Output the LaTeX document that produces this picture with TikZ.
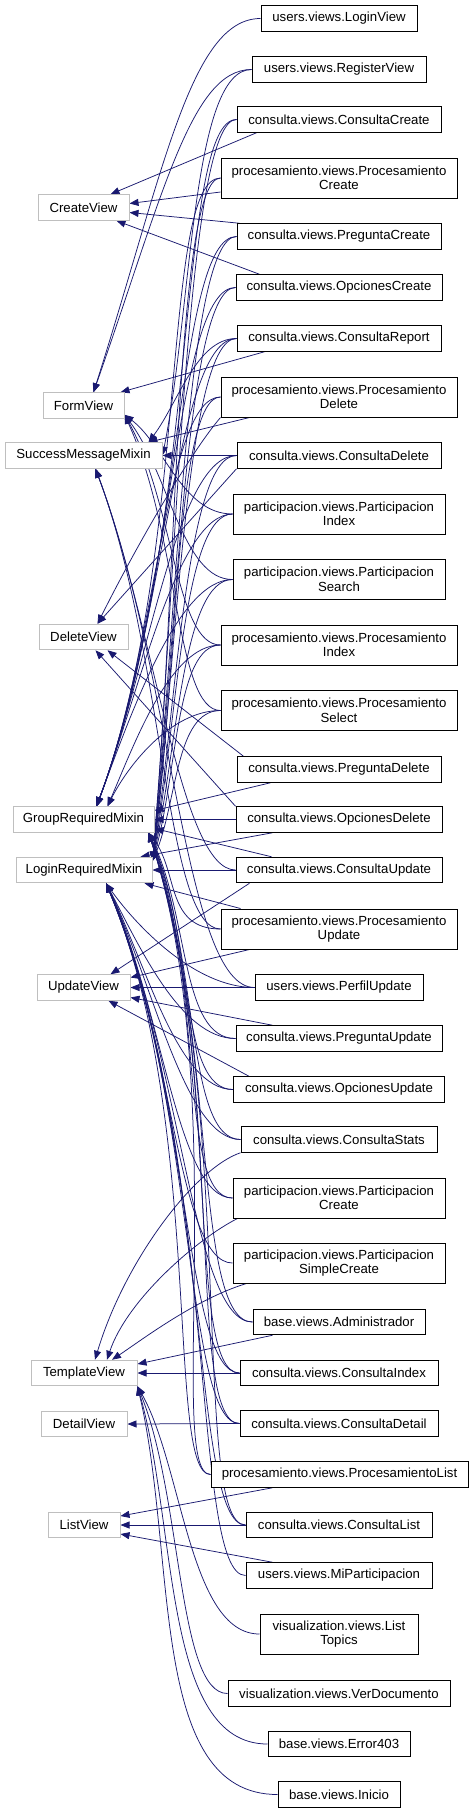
\documentclass[tikz,border=0pt]{standalone}
\usepackage{fontspec}
\setmainfont{Liberation Sans}
\usetikzlibrary{arrows.meta,calc}
\definecolor{edgec}{HTML}{191970}
\definecolor{basegray}{HTML}{BFBFBF}
\pgfdeclarelayer{bg}
\pgfsetlayers{bg,main}
\newcommand{\cedge}[4]{\draw[edge] (#1) .. controls +(#3) and +(#4) .. (#2);}
\begin{document}
\begin{tikzpicture}[x=1pt,y=-1pt,
  cls/.style={draw=black, line width=1pt, fill=white, inner sep=0pt, align=center, minimum height=25.5pt, font=\fontsize{13.2}{14.5}\selectfont},
  two/.style={minimum height=40pt},
  base/.style={draw=basegray, line width=1pt, fill=white, inner sep=0pt, minimum height=25.5pt, font=\fontsize{13.2}{14.5}\selectfont},
  edge/.style={draw=edgec, line width=0.75pt, -{Triangle[length=9pt,width=7pt]}}]
\useasboundingbox (0,0) rectangle (473,1813);
\begin{pgfonlayer}{bg}
\fill[white] (0,0) rectangle (473,1813);
\end{pgfonlayer}

% derived classes
\node[cls, minimum width=156pt] (lv) at (339,18.5) {users.views.LoginView};
\node[cls, minimum width=174pt] (rv) at (339,69.5) {users.views.RegisterView};
\node[cls, minimum width=204pt] (cc) at (339,119.5) {consulta.views.ConsultaCreate};
\node[cls, two, minimum width=236pt] (pc) at (339,178) {procesamiento.views.Procesamiento\\Create};
\node[cls, minimum width=204pt] (pgc) at (339,236.5) {consulta.views.PreguntaCreate};
\node[cls, minimum width=206pt] (oc) at (339,287.5) {consulta.views.OpcionesCreate};
\node[cls, minimum width=204pt] (cr) at (339,338.5) {consulta.views.ConsultaReport};
\node[cls, two, minimum width=236pt] (pd) at (339,397) {procesamiento.views.Procesamiento\\Delete};
\node[cls, minimum width=204pt] (cd) at (339,455.5) {consulta.views.ConsultaDelete};
\node[cls, two, minimum width=212pt] (pai) at (339,514) {participacion.views.Participacion\\Index};
\node[cls, two, minimum width=212pt] (pas) at (339,579.5) {participacion.views.Participacion\\Search};
\node[cls, two, minimum width=236pt] (pi) at (339,645) {procesamiento.views.Procesamiento\\Index};
\node[cls, two, minimum width=236pt] (ps) at (339,710.5) {procesamiento.views.Procesamiento\\Select};
\node[cls, minimum width=204pt] (pgd) at (339,769.5) {consulta.views.PreguntaDelete};
\node[cls, minimum width=206pt] (od) at (339,819.5) {consulta.views.OpcionesDelete};
\node[cls, minimum width=206pt] (cu) at (339,870) {consulta.views.ConsultaUpdate};
\node[cls, two, minimum width=236pt] (pu) at (339,929) {procesamiento.views.Procesamiento\\Update};
\node[cls, minimum width=168pt] (pfu) at (339,987.5) {users.views.PerfilUpdate};
\node[cls, minimum width=206pt] (pgu) at (339,1038.5) {consulta.views.PreguntaUpdate};
\node[cls, minimum width=211pt] (ou) at (339,1089.5) {consulta.views.OpcionesUpdate};
\node[cls, minimum width=196pt] (cs) at (339,1139.5) {consulta.views.ConsultaStats};
\node[cls, two, minimum width=212pt] (pac) at (339,1198) {participacion.views.Participacion\\Create};
\node[cls, two, minimum width=212pt] (pasc) at (339,1263) {participacion.views.Participacion\\SimpleCreate};
\node[cls, minimum width=172pt] (adm) at (339,1322) {base.views.Administrador};
\node[cls, minimum width=198pt] (ci) at (339,1373) {consulta.views.ConsultaIndex};
\node[cls, minimum width=198pt] (cdt) at (339,1423.5) {consulta.views.ConsultaDetail};
\node[cls, minimum width=257pt] (pl) at (339.5,1474.5) {procesamiento.views.ProcesamientoList};
\node[cls, minimum width=186pt] (cl) at (339,1525) {consulta.views.ConsultaList};
\node[cls, minimum width=186pt] (mp) at (339,1575.5) {users.views.MiParticipacion};
\node[cls, two, minimum width=158pt] (lt) at (339,1634) {visualization.views.List\\Topics};
\node[cls, minimum width=222pt] (vd) at (339,1693.5) {visualization.views.VerDocumento};
\node[cls, minimum width=142pt] (e403) at (339,1744) {base.views.Error403};
\node[cls, minimum width=122pt] (ini) at (339,1794.5) {base.views.Inicio};

% base classes
\node[base, minimum width=91pt] (CV) at (83.5,207.5) {CreateView};
\node[base, minimum width=81pt] (FV) at (83.5,405.5) {FormView};
\node[base, minimum width=157pt] (SM) at (83.5,455.5) {SuccessMessageMixin};
\node[base, minimum width=89pt] (DV) at (83.5,637) {DeleteView};
\node[base, minimum width=141pt] (GR) at (83.5,819.5) {GroupRequiredMixin};
\node[base, minimum width=136pt] (LR) at (84,870) {LoginRequiredMixin};
\node[base, minimum width=93pt] (UV) at (83.5,987.5) {UpdateView};
\node[base, minimum width=106pt] (TV) at (84,1373) {TemplateView};
\node[base, minimum width=86pt] (DTV) at (84,1424) {DetailView};
\node[base, minimum width=72pt] (LV) at (84,1525) {ListView};

% anchor points on base classes
\coordinate (CVa) at ($(CV.north)+(27,0)$);
\coordinate (CVb) at ($(CV.east)+(0,-4)$);
\coordinate (CVc) at ($(CV.east)+(0,5)$);
\coordinate (CVd) at ($(CV.south)+(33,0)$);
\coordinate (FVt) at ($(FV.north)+(10,0)$);
\coordinate (FVr) at ($(FV.north east)+(-4,0)$);
\coordinate (FVb) at ($(FV.south east)+(0,-4)$);
\coordinate (SMt) at ($(SM.north east)+(-14,0)$);
\coordinate (SMb) at ($(SM.south)+(12,0)$);
\coordinate (DVt) at ($(DV.north)+(14,0)$);
\coordinate (DVb1) at ($(DV.south)+(12,0)$);
\coordinate (DVb2) at ($(DV.south)+(24,0)$);
\coordinate (GRt) at ($(GR.north)+(13,0)$);
\coordinate (GRt2) at ($(GR.north)+(24,0)$);
\coordinate (GRr1) at ($(GR.east)+(0,-9)$);
\coordinate (GRr2) at ($(GR.east)+(0,9)$);
\coordinate (GRb) at ($(GR.south east)+(-6,0)$);
\coordinate (LRt) at ($(LR.north east)+(-12,0)$);
\coordinate (LRr1) at ($(LR.east)+(0,-9)$);
\coordinate (LRb1) at ($(LR.south east)+(-8,0)$);
\coordinate (LRb) at ($(LR.south)+(22,0)$);
\coordinate (UVa) at ($(UV.north east)+(-20,0)$);
\coordinate (UVb) at ($(UV.east)+(0,-10)$);
\coordinate (UVc) at ($(UV.east)+(0,10)$);
\coordinate (UVd) at ($(UV.south east)+(-22,0)$);
\coordinate (TVt1) at ($(TV.north)+(11,0)$);
\coordinate (TVt2) at ($(TV.north)+(23,0)$);
\coordinate (TVt3) at ($(TV.north)+(28,0)$);
\coordinate (TVr1) at ($(TV.east)+(0,-9)$);
\coordinate (LVa) at ($(LV.east)+(0,-9)$);
\coordinate (LVc) at ($(LV.east)+(0,9)$);

\begin{pgfonlayer}{bg}
% CreateView
\draw[edge] ($(cc.south west)+(20,0)$) -- (CVa);
\draw[edge] ($(pc.west)+(0,14)$) -- (CVb);
\draw[edge] ($(pgc.north west)+(3,0)$) -- (CVc);
\draw[edge] ($(oc.north west)+(24,0)$) -- (CVd);
% FormView
\cedge{lv.west}{FVt}{-70,0}{70,-220}
\cedge{rv.west}{FVt}{-60,0}{70,-200}
\draw[edge] ($(cr.south west)+(28,0)$) -- (FVr);
\cedge{pai.west}{FVb}{-50,0}{40,30}
\cedge{pas.west}{FVb}{-50,0}{45,60}
\cedge{pi.west}{FVb}{-45,0}{50,90}
\cedge{ps.west}{FVb}{-45,0}{55,120}
% SuccessMessageMixin
\draw[edge] ($(pd.south west)+(29,0)$) -- (SMt);
\cedge{cr.west}{SMt}{-40,0}{30,-40}
\draw[edge] (cd.west) -- (SM.east);
\cedge{rv.west}{SM.east}{-60,0}{30,-150}
\cedge{cu.west}{SMb}{-55,0}{60,161}
\cedge{pu.west}{SMb}{-55,0}{69,184}
\cedge{pfu.west}{SMb}{-70,0}{78,208}
% DeleteView
\draw[edge] (cd.south west) -- (DVt);
\cedge{pd.south west}{DVt}{-30,35}{40,-80}
\draw[edge] ($(pgd.north west)+(7,0)$) -- (DVb2);
\draw[edge] (od.north west) -- (DVb1);
% GroupRequiredMixin
\cedge{cc.west}{GRt}{-60,0}{103,-275}
\cedge{pc.west}{GRt}{-60,0}{94,-252}
\cedge{pgc.west}{GRt}{-60,0}{86,-228}
\cedge{oc.west}{GRt}{-60,0}{78,-208}
\cedge{cr.west}{GRt}{-60,0}{70,-187}
\cedge{pd.west}{GRt}{-55,0}{62,-164}
\cedge{cd.west}{GRt}{-60,0}{53,-140}
\cedge{pai.west}{GRt}{-55,0}{44,-117}
\cedge{pas.west}{GRt}{-55,0}{34,-91}
\cedge{pi.west}{GRt2}{-50,0}{28,-65}
\cedge{ps.west}{GRt2}{-50,0}{20,-40}
\draw[edge] ($(pgd.south west)+(34,0)$) -- (GRr1);
\draw[edge] (od.west) -- (GR.east);
\draw[edge] ($(cu.north west)+(36,0)$) -- (GRr2);
\cedge{pu.west}{GRb}{-55,0}{30,39}
\cedge{pgu.west}{GRb}{-55,0}{41,83}
\cedge{ou.west}{GRb}{-55,0}{46,103}
\cedge{cs.west}{GRb}{-55,0}{51,123}
\cedge{pac.west}{GRb}{-55,0}{57,146}
\cedge{adm.west}{GRb}{-60,0}{69,196}
\cedge{ci.west}{GRb}{-55,0}{74,216}
\cedge{cdt.west}{GRb}{-55,0}{79,237}
\cedge{pl.west}{GRb}{-45,0}{84,257}
\cedge{cl.west}{GRb}{-55,0}{89,277}
% LoginRequiredMixin
\cedge{cc.west}{LRr1}{-50,0}{25,-296}
\cedge{pc.west}{LRr1}{-45,0}{25,-273}
\cedge{pgc.west}{LRr1}{-50,0}{25,-250}
\cedge{oc.west}{LRr1}{-50,0}{25,-229}
\cedge{cr.west}{LRr1}{-50,0}{25,-209}
\cedge{pd.west}{LRr1}{-45,0}{25,-186}
\cedge{cd.west}{LRr1}{-50,0}{25,-162}
\cedge{pai.west}{LRr1}{-50,0}{25,-139}
\cedge{pas.west}{LRr1}{-50,0}{25,-113}
\cedge{pi.west}{LRr1}{-45,0}{25,-86}
\cedge{ps.west}{LRr1}{-45,0}{25,-60}
\draw[edge] ($(od.south west)+(37,0)$) -- (LRt);
\draw[edge] (cu.west) -- (LR.east);
\draw[edge] ($(pu.north west)+(20,0)$) -- (LRb1);
\cedge{pfu.west}{LRb}{-60,0}{30,42}
\cedge{pgu.west}{LRb}{-55,0}{33,62}
\cedge{ou.west}{LRb}{-55,0}{41,83}
\cedge{cs.west}{LRb}{-55,0}{48,103}
\cedge{pac.west}{LRb}{-55,0}{57,126}
\cedge{pasc.west}{LRb}{-55,0}{67,152}
\cedge{adm.west}{LRb}{-60,0}{76,176}
\cedge{ci.west}{LRb}{-55,0}{83,196}
\cedge{cdt.west}{LRb}{-55,0}{91,216}
\cedge{pl.west}{LRb}{-45,0}{99,237}
\cedge{cl.west}{LRb}{-55,0}{106,257}
\cedge{mp.west}{LRb}{-55,0}{114,277}
% UpdateView
\draw[edge] ($(cu.south west)+(14,0)$) -- (UVa);
\draw[edge] ($(pu.south west)+(29,0)$) -- (UVb);
\draw[edge] (pfu.west) -- (UV.east);
\draw[edge] ($(pgu.north west)+(37,0)$) -- (UVc);
\draw[edge] ($(ou.north west)+(16,0)$) -- (UVd);
% TemplateView
\cedge{cs.south west}{TVt1}{-45,15}{30,-100}
\cedge{$(pac.south west)+(5,0)$}{TVt2}{-40,20}{20,-60}
\cedge{$(pasc.south west)+(14,0)$}{TVt3}{-50,15}{30,-20}
\draw[edge] ($(adm.south west)+(20,0)$) -- (TVr1);
\draw[edge] (ci.west) -- (TV.east);
\cedge{lt.west}{TV.south east}{-70,0}{45,80}
\cedge{vd.west}{TV.south east}{-50,0}{45,110}
\cedge{e403.west}{TV.south east}{-105,0}{40,140}
\cedge{ini.west}{TV.south east}{-130,0}{40,170}
% DetailView
\draw[edge] (cdt.west) -- (DTV.east);
% ListView
\draw[edge] ($(pl.south west)+(62,0)$) -- (LVa);
\draw[edge] (cl.west) -- (LV.east);
\draw[edge] ($(mp.north west)+(27,0)$) -- (LVc);
\end{pgfonlayer}
\end{tikzpicture}
\end{document}
